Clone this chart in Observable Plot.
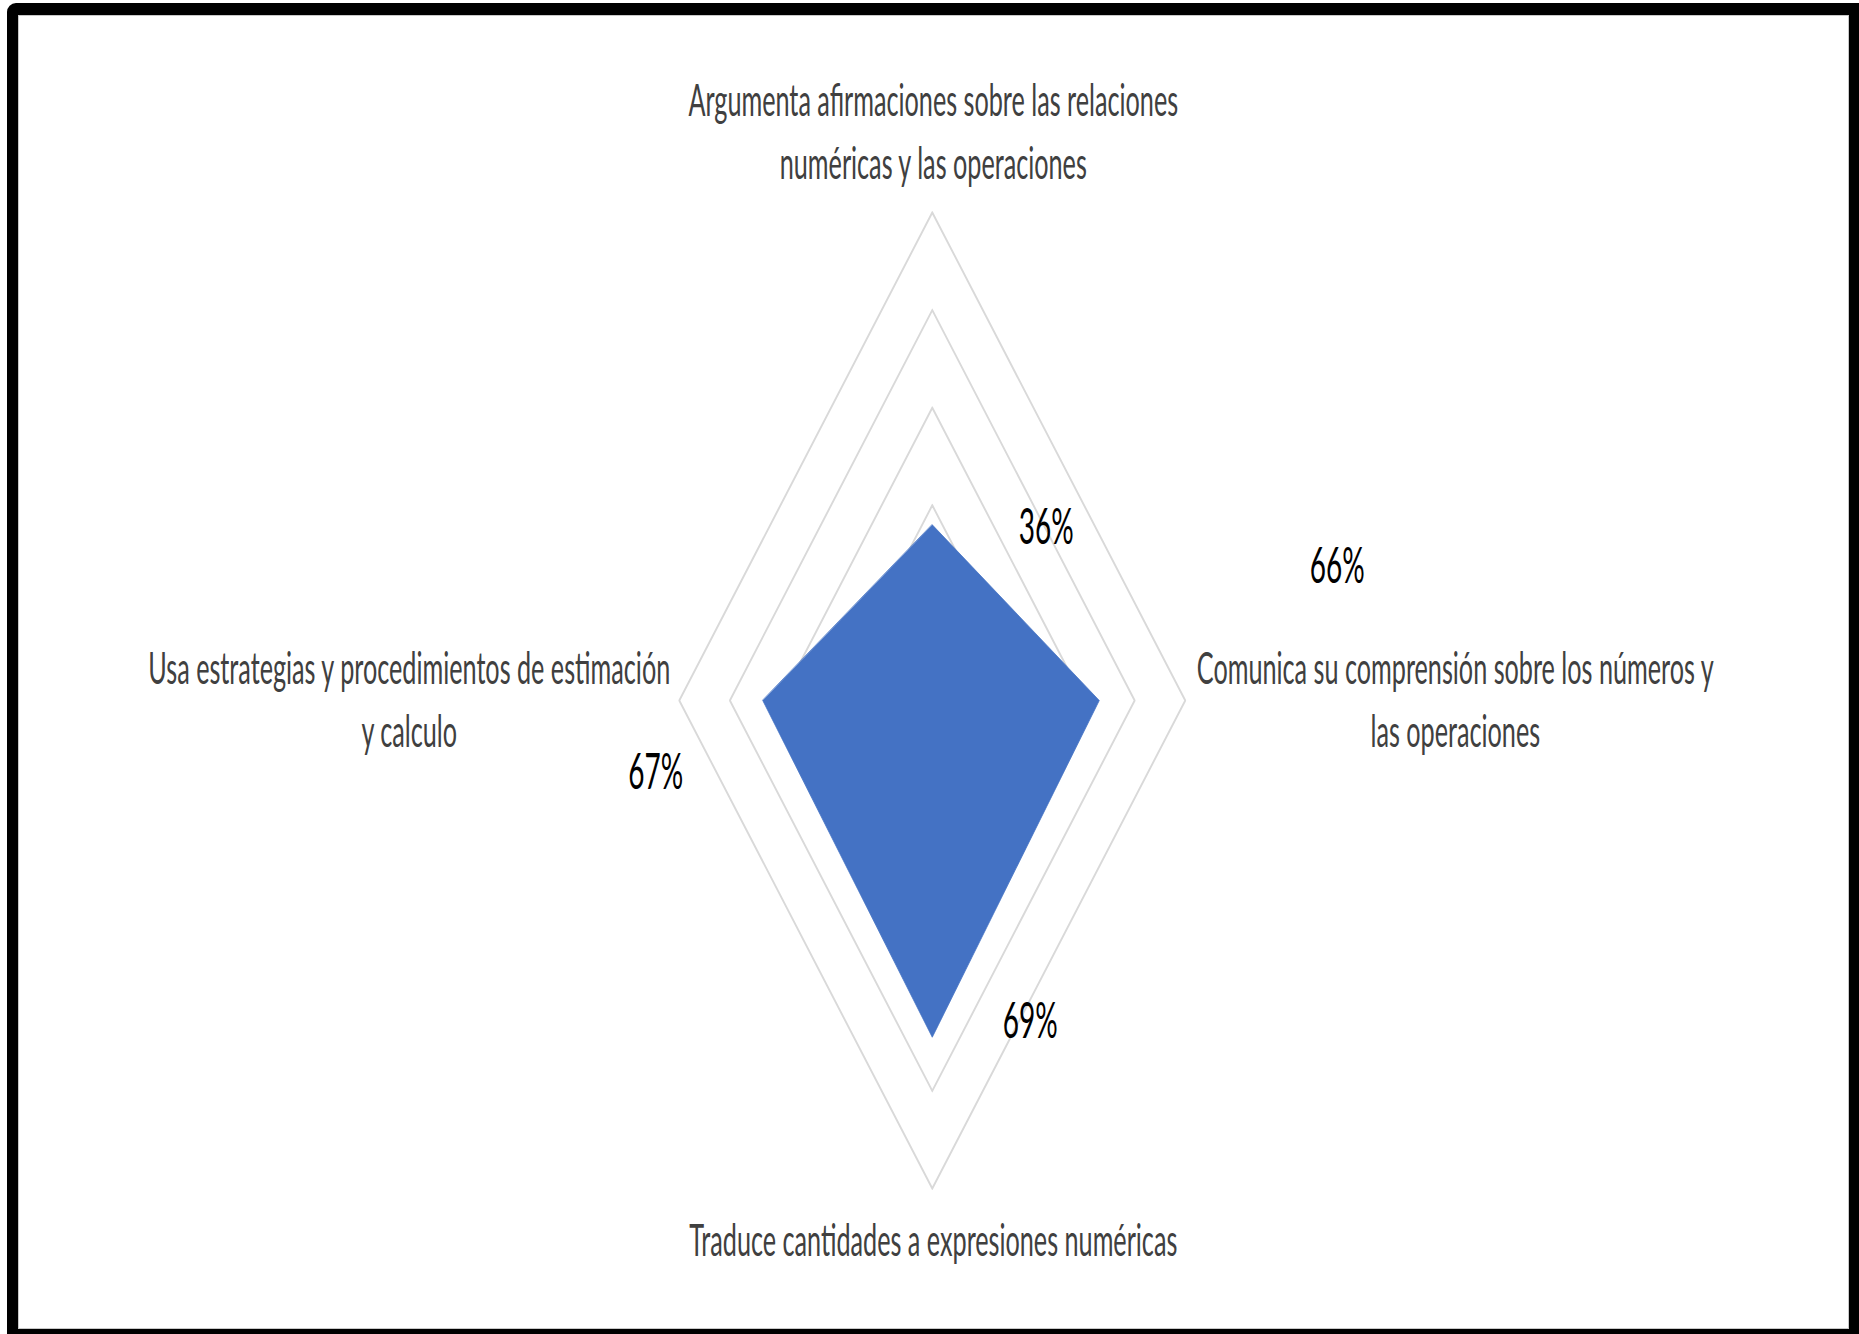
<!DOCTYPE html>
<html>
<head>
<meta charset="utf-8">
<script src="https://cdn.jsdelivr.net/npm/d3@7"></script>
<script src="https://cdn.jsdelivr.net/npm/@observablehq/plot@0.6"></script>
<style>
html, body { margin: 0; padding: 0; background: #fff; overflow: hidden; width: 1859px; height: 1334px; }
#chart { position: absolute; left: 0; top: 0; width: 1859px; height: 1334px; }
#frame { position: absolute; left: 7px; top: 3px; width: 1853px; height: 1338px; box-sizing: border-box;
  border-style: solid; border-color: #000; border-width: 12px 11px; border-radius: 9px 0 0 0;
  box-shadow: inset 0 0 0 1px #c8c8c8; pointer-events: none; }
</style>
</head>
<body>
<div id="chart"></div>
<div id="frame"></div>
<script>
// ---- data ----
const categories = [
  "Argumenta afirmaciones sobre las relaciones numéricas y las operaciones",
  "Comunica su comprensión sobre los números y las operaciones",
  "Traduce cantidades a expresiones numéricas",
  "Usa estrategias y procedimientos de estimación y calculo"
];
const categoryLabelLines = [
  ["Argumenta afirmaciones sobre las relaciones", "numéricas y las operaciones"],
  ["Comunica su comprensión sobre los números y", "las operaciones"],
  ["Traduce cantidades a expresiones numéricas"],
  ["Usa estrategias y procedimientos de estimación", "y calculo"]
];
const values = [0.36, 0.66, 0.69, 0.67];
const valueLabels = ["36%", "66%", "69%", "67%"];
const ringLevels = [0.2, 0.4, 0.6, 0.8, 1.0];

// ---- layout / style ----
const S = 0.56;                // horizontal squash of the whole picture
const PAGE_W = 1859, PAGE_H = 1334;
const W = PAGE_W / S;
const CX = 932, CY = 700, RX = 253, RY = 488;   // screen px
const catOffsets = [[1, -34], [270, 46], [1, 67], [-270, 46]];        // screen px
const valOffsets = [[114, 3], [238, -134], [98, -15], [-107, 72]];    // screen px

const n = categories.length;
const ang = i => (i * 2 * Math.PI) / n;
const polar = (r, i) => ({x: r * Math.sin(ang(i)), y: r * Math.cos(ang(i))});

const ringPts = ringLevels.flatMap(level => categories.map((c, i) => ({level, ...polar(level, i)})));
const dataPts = categories.map((c, i) => ({category: c, value: values[i], ...polar(values[i], i)}));
const catPts = categories.map((c, i) => ({text: categoryLabelLines[i].join("\n"), ...polar(1, i)}));
const valPts = categories.map((c, i) => ({text: valueLabels[i], ...polar(values[i], i)}));

const font = "Lato, 'Open Sans', sans-serif";

const plot = Plot.plot({
  width: W,
  height: PAGE_H,
  margin: 0,
  style: {fontFamily: font, background: "transparent"},
  x: {domain: [-1, 1], range: [(CX - RX) / S, (CX + RX) / S], axis: null},
  y: {domain: [-1, 1], range: [CY + RY, CY - RY], axis: null},
  marks: [
    Plot.line(ringPts, {x: "x", y: "y", z: "level", curve: "linear-closed", stroke: "#d9d9d9", strokeWidth: 2.8}),
    Plot.line(dataPts, {x: "x", y: "y", curve: "linear-closed", fill: "#4472C4", stroke: "#4472C4", strokeWidth: 1}),
    ...catPts.map((d, i) => Plot.text([d], {
      x: "x", y: "y", text: "text",
      dx: catOffsets[i][0] / S, dy: catOffsets[i][1],
      textAnchor: "middle", lineAnchor: "bottom", lineHeight: 1.4,
      fontSize: 45, fill: "#404040", fontFamily: font
    })),
    ...valPts.map((d, i) => Plot.text([d], {
      x: "x", y: "y", text: "text",
      dx: valOffsets[i][0] / S, dy: valOffsets[i][1],
      textAnchor: "middle", lineAnchor: "middle",
      fontSize: 50, fill: "#000", fontFamily: font
    }))
  ]
});

plot.setAttribute("preserveAspectRatio", "none");
plot.setAttribute("width", PAGE_W);
plot.setAttribute("height", PAGE_H);
plot.style.width = PAGE_W + "px";
plot.style.height = PAGE_H + "px";
plot.style.maxWidth = "none";
document.getElementById("chart").appendChild(plot);
</script>
</body>
</html>
